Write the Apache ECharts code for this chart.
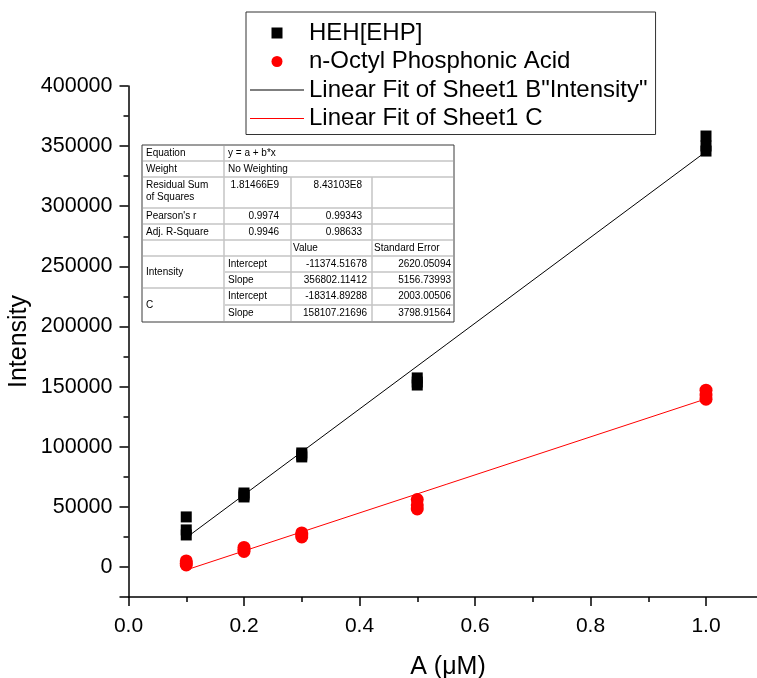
<!DOCTYPE html>
<html>
<head>
<meta charset="utf-8">
<script src="https://cdn.jsdelivr.net/npm/echarts@6/dist/echarts.min.js"></script>
<style>html,body{margin:0;padding:0;background:#fff;}#chart{width:757px;height:678px;}</style>
</head>
<body>
<div id="chart"></div>
<script>
// ---- data ----
const conc = [0.1, 0.1, 0.1, 0.2, 0.2, 0.2, 0.3, 0.3, 0.3, 0.5, 0.5, 0.5, 1.0, 1.0, 1.0];
const hehEhp = [41600, 30800, 26600, 61500, 59900, 58200, 94800, 93100, 91500, 157200, 153800, 151300, 358400, 350100, 345900];
const octylPA = [5000, 3000, 1700, 16200, 14500, 12900, 28300, 26500, 25000, 56100, 51600, 48200, 147000, 143000, 139500];
const fitX = [0.1, 1.0];
const fitNames = ['Intensity', 'C'];
const paramNames = ['Intercept', 'Slope'];
const intercepts = [-11374.51678, -18314.89288];
const slopes = [356802.11412, 158107.21696];
const interceptErr = [2620.05094, 2003.00506];
const slopeErr = [5156.73993, 3798.91564];
const rss = ['1.81466E9', '8.43103E8'];
const pearsonR = ['0.9974', '0.99343'];
const adjR2 = ['0.9946', '0.98633'];
const statLabels = ['Equation', 'Weight', 'Residual Sum\nof Squares', "Pearson's r", 'Adj. R-Square'];
const equationText = 'y = a + b*x';
const weightText = 'No Weighting';
const headerLabels = ['Value', 'Standard Error'];
const seriesNames = ['HEH[EHP]', 'n-Octyl Phosphonic Acid', 'Linear Fit of Sheet1 B"Intensity"', 'Linear Fit of Sheet1 C'];
const yTicks = [0, 50000, 100000, 150000, 200000, 250000, 300000, 350000, 400000];
const xTicks = [0.0, 0.2, 0.4, 0.6, 0.8, 1.0];

// ---- build ----
const FONT = 'Liberation Sans, Arial, sans-serif';
const pts = (ys) => conc.map((x, i) => [x, ys[i]]);
const fitLine = (k) => fitX.map(x => [x, intercepts[k] + slopes[k] * x]);

// table geometry (layout)
const colX = [142, 224, 291, 372, 454];
const rowY = [145, 161, 177, 208, 224, 240, 256, 272, 288, 305, 322];
const gridColor = '#c4c4c4';
const g = [];
g.push({type: 'rect', shape: {x: colX[0], y: rowY[0], width: colX[4] - colX[0], height: rowY[10] - rowY[0]},
  style: {fill: '#fff', stroke: '#3a3a3a', lineWidth: 1}, z: 100});
function hline(y, x1, x2) { g.push({type: 'line', shape: {x1: x1, y1: y, x2: x2, y2: y}, style: {stroke: gridColor, lineWidth: 1.5}, z: 101}); }
function vline(x, y1, y2) { g.push({type: 'line', shape: {x1: x, y1: y1, x2: x, y2: y2}, style: {stroke: gridColor, lineWidth: 1.5}, z: 101}); }
for (let r = 1; r <= 9; r++) {
  const x1 = (r === 7 || r === 9) ? colX[1] : colX[0];
  hline(rowY[r], x1 + 1, colX[4] - 1);
}
vline(colX[1], rowY[0] + 1, rowY[10] - 1);
vline(colX[2], rowY[2], rowY[10] - 1);
vline(colX[3], rowY[2], rowY[10] - 1);
function txt(s, x, y, align, vAlign) {
  g.push({type: 'text', x: x, y: y, z: 102,
    style: {text: s, fill: '#000', font: '10px ' + FONT, textAlign: align || 'left', textVerticalAlign: vAlign || 'middle', lineHeight: 12}});
}
const mid = (r) => (rowY[r] + rowY[r + 1]) / 2;
// stat rows
txt(statLabels[0], colX[0] + 4, mid(0));
txt(statLabels[1], colX[0] + 4, mid(1));
txt(statLabels[2], colX[0] + 4, rowY[2] + 2, 'left', 'top');
txt(statLabels[3], colX[0] + 4, mid(3));
txt(statLabels[4], colX[0] + 4, mid(4));
txt(equationText, colX[1] + 4, mid(0));
txt(weightText, colX[1] + 4, mid(1));
txt(rss[0], colX[2] - 12, rowY[2] + 8, 'right');
txt(rss[1], colX[3] - 10, rowY[2] + 8, 'right');
txt(pearsonR[0], colX[2] - 12, mid(3), 'right');
txt(pearsonR[1], colX[3] - 10, mid(3), 'right');
txt(adjR2[0], colX[2] - 12, mid(4), 'right');
txt(adjR2[1], colX[3] - 10, mid(4), 'right');
txt(headerLabels[0], colX[2] + 2, mid(5));
txt(headerLabels[1], colX[3] + 2, mid(5));
for (let k = 0; k < 2; k++) {
  const r0 = 6 + 2 * k;
  txt(fitNames[k], colX[0] + 4, rowY[r0 + 1]);
  txt(paramNames[0], colX[1] + 4, mid(r0));
  txt(paramNames[1], colX[1] + 4, mid(r0 + 1));
  txt(intercepts[k].toFixed(5), colX[3] - 5, mid(r0), 'right');
  txt(slopes[k].toFixed(5), colX[3] - 5, mid(r0 + 1), 'right');
  txt(interceptErr[k].toFixed(5), colX[4] - 3, mid(r0), 'right');
  txt(slopeErr[k].toFixed(5), colX[4] - 3, mid(r0 + 1), 'right');
}

const axisLineStyle = {color: '#000', width: 1.5};
const lineIcon = 'path://M0,0H54V1H0Z';
const option = {
  animation: false,
  backgroundColor: '#fff',
  grid: {left: 128.5, top: 86, bottom: 81, right: -64.5, containLabel: false, outerBoundsMode: 'none'},
  legend: {
    orient: 'vertical', left: 246, top: 12,
    padding: [9, 8, 4, 4], itemGap: 4.5, itemWidth: 54, itemHeight: 11,
    borderColor: '#333', borderWidth: 1, backgroundColor: '#fff',
    textStyle: {fontFamily: FONT, fontSize: 24, color: '#000', lineHeight: 23},
    data: [
      {name: seriesNames[0], icon: 'path://M0,0H1V1H0Z'},
      {name: seriesNames[1], icon: 'path://M1,0.5A0.5,0.5,0,1,1,0,0.5A0.5,0.5,0,1,1,1,0.5Z'},
      {name: seriesNames[2], icon: lineIcon},
      {name: seriesNames[3], icon: lineIcon}
    ]
  },
  xAxis: [
    {type: 'value', min: 0, max: 1.2, interval: 0.1,
      axisLine: {show: true, onZero: false, lineStyle: axisLineStyle},
      axisTick: {show: true, length: 5, lineStyle: axisLineStyle},
      axisLabel: {show: false}, splitLine: {show: false}},
    {type: 'value', min: 0, max: 1.2, interval: 0.2, position: 'bottom',
      axisLine: {show: false, onZero: false},
      axisTick: {show: true, length: 9, lineStyle: axisLineStyle},
      axisLabel: {show: true, margin: 19, fontFamily: FONT, fontSize: 21, color: '#000',
        formatter: v => (v <= 1.05 ? xTicks[Math.round(v / 0.2)].toFixed(1) : '')},
      splitLine: {show: false},
      name: 'A (\u03bcM)', nameLocation: 'middle', nameGap: 58,
      nameTextStyle: {fontFamily: FONT, fontSize: 25, color: '#000', padding: [0, 54, 0, 0]}}
  ],
  yAxis: [
    {type: 'value', min: -25000, max: 400000, interval: 25000,
      axisLine: {show: true, onZero: false, lineStyle: axisLineStyle},
      axisTick: {show: true, length: 5, lineStyle: axisLineStyle},
      axisLabel: {show: false}, splitLine: {show: false}},
    {type: 'value', min: -25000, max: 400000, splitNumber: 8, position: 'left',
      axisLine: {show: false, onZero: false},
      axisTick: {show: true, length: 9, lineStyle: axisLineStyle},
      axisLabel: {show: true, margin: 16, fontFamily: FONT, fontSize: 21.5, color: '#000',
        formatter: v => (yTicks.indexOf(v) >= 0 ? String(v) : '')},
      splitLine: {show: false},
      name: 'Intensity', nameLocation: 'middle', nameGap: 97, nameMoveOverlap: false,
      nameTextStyle: {fontFamily: FONT, fontSize: 25, color: '#000'}}
  ],
  series: [
    {name: seriesNames[0], type: 'scatter', data: pts(hehEhp), symbol: 'rect', symbolSize: 11,
      itemStyle: {color: '#000', opacity: 1}, z: 5},
    {name: seriesNames[1], type: 'scatter', data: pts(octylPA), symbol: 'circle', symbolSize: 13,
      itemStyle: {color: '#ff0000', opacity: 1}, z: 5},
    {name: seriesNames[2], type: 'line', data: fitLine(0), symbol: 'none', showSymbol: false,
      lineStyle: {color: '#000', width: 1}, itemStyle: {color: '#000'}, z: 3},
    {name: seriesNames[3], type: 'line', data: fitLine(1), symbol: 'none', showSymbol: false,
      lineStyle: {color: '#ff0000', width: 1}, itemStyle: {color: '#ff0000'}, z: 3}
  ],
  graphic: g
};
const chart = echarts.init(document.getElementById('chart'), null, {renderer: 'canvas'});
chart.setOption(option);
</script>
</body>
</html>
